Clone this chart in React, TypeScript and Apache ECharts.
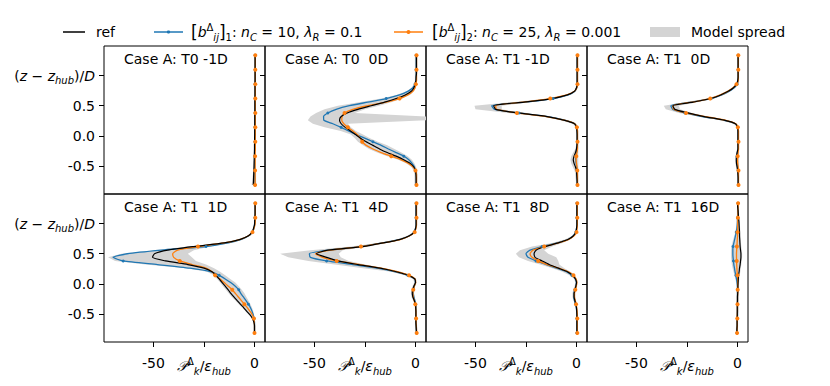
import React, { useEffect, useRef } from "react";
import * as echarts from "echarts";

// Heights (z - z_hub)/D at which every profile is sampled (bottom to top)
const Y = [
  -0.82, -0.76, -0.7, -0.64, -0.58, -0.52, -0.46, -0.4, -0.34, -0.28,
  -0.22, -0.16, -0.1, -0.04, 0.02, 0.08, 0.14, 0.2, 0.26, 0.32,
  0.38, 0.44, 0.5, 0.56, 0.62, 0.68, 0.74, 0.8, 0.86, 0.92,
  0.98, 1.04, 1.1, 1.16, 1.22, 1.28, 1.34,
];

const TITLES = [
  "Case A: T0 -1D", "Case A: T0  0D", "Case A: T1 -1D", "Case A: T1  0D",
  "Case A: T1  1D", "Case A: T1  4D", "Case A: T1  8D", "Case A: T1  16D",
];
const X_TICKS = [-50, -25, 0];
const Y_TICKS = [-0.5, 0, 0.5, 1];

// ---- T0 -1D
const t0m1Ref = [
  -0.6, -0.5, -0.45, -0.4, -0.3, -0.25, -0.2, -0.15, -0.1, -0.05,
  0, 0, 0.05, 0.05, 0.1, 0.1, 0.1, 0.15, 0.15, 0.15,
  0.2, 0.2, 0.2, 0.2, 0.2, 0.25, 0.25, 0.25, 0.25, 0.3,
  0.3, 0.3, 0.3, 0.3, 0.3, 0.3, 0.3];
const t0m1B1 = [
  0.2, 0.2, 0.2, 0.1, 0.1, 0.1, 0.1, 0.1, 0.1, 0.1,
  0.2, 0.2, 0.2, 0.2, 0.2, 0.2, 0.2, 0.2, 0.2, 0.2,
  0.3, 0.3, 0.3, 0.3, 0.3, 0.3, 0.3, 0.3, 0.3, 0.3,
  0.3, 0.3, 0.3, 0.3, 0.3, 0.3, 0.3];
const t0m1B2 = [
  0.3, 0.3, 0.3, 0.3, 0.3, 0.3, 0.3, 0.3, 0.3, 0.3,
  0.4, 0.4, 0.4, 0.4, 0.4, 0.4, 0.4, 0.4, 0.4, 0.4,
  0.4, 0.4, 0.4, 0.4, 0.4, 0.4, 0.4, 0.4, 0.4, 0.4,
  0.4, 0.4, 0.4, 0.4, 0.4, 0.4, 0.4];
const t0m1Lo = [
  -1.4, -1.2, -1.0, -0.8, -0.6, -0.5, -0.4, -0.3, -0.3, -0.2,
  -0.2, -0.2, -0.2, -0.1, -0.1, -0.1, -0.1, -0.1, -0.1, -0.1,
  -0.1, -0.1, -0.1, -0.1, -0.1, 0, 0, 0, 0, 0,
  0, 0, 0, 0, 0, 0, 0];
const t0m1Hi = [
  0.9, 0.8, 0.8, 0.8, 0.7, 0.7, 0.7, 0.7, 0.7, 0.7,
  0.7, 0.7, 0.7, 0.7, 0.7, 0.7, 0.7, 0.7, 0.7, 0.7,
  0.7, 0.7, 0.7, 0.7, 0.7, 0.7, 0.7, 0.7, 0.7, 0.7,
  0.7, 0.7, 0.7, 0.7, 0.7, 0.7, 0.7];

// ---- T0 0D
const t00Ref = [
  0.3, 0.3, 0.3, 0.2, 0, -0.8, -2.6, -5.8, -9.6, -14,
  -17.8, -21.1, -24.4, -27.2, -29.7, -32.2, -34.8, -36.8, -37.6, -36.8,
  -33.8, -28.5, -21.9, -15.3, -9.6, -5.1, -2.1, -0.8, -0.2, 0.2,
  0.3, 0.5, 0.5, 0.5, 0.5, 0.5, 0.5];
const t00B1 = [
  0.4, 0.4, 0.4, 0.4, 0, -0.5, -1.7, -3.3, -5.8, -9.6,
  -13.4, -17, -21.1, -25.2, -29.4, -33.2, -36.8, -40.9, -45.4, -45.5,
  -43.4, -39.3, -32.7, -23.6, -14.5, -7.9, -3.8, -1.3, -0.2, 0.3,
  0.3, 0.3, 0.3, 0.3, 0.3, 0.3, 0.3];
const t00B2 = [
  0.5, 0.5, 0.5, 0.5, 0, -1.2, -3.5, -7.1, -12, -17,
  -21.1, -24.4, -26.4, -27.4, -28.9, -31, -33.5, -35.5, -36.5, -36.3,
  -35.1, -31, -23.6, -14.5, -7.9, -3.8, -1.3, -0.2, 0.2, 0.5,
  0.5, 0.5, 0.5, 0.5, 0.5, 0.5, 0.5];
const t00Lo = [
  -0.5, -0.5, -0.5, -0.5, -1, -2, -4.5, -8.5, -14, -19,
  -23, -26, -28.5, -30, -32, -37, -45, -50.8, -53.3, -52,
  -49.2, -45, -38.4, -28, -17, -9.5, -4.5, -2, -0.8, -0.3,
  -0.3, -0.3, -0.3, -0.3, -0.3, -0.3, -0.3];
const t00Hi = [
  1, 1, 1, 1, 0.8, 0.3, -0.5, -1.8, -3.8, -7,
  -10.4, -14, -18.6, -22.5, -26, -29.5, -32, -33.5, 5.2, 5.2,
  -30, -25, -18, -12, -6.5, -2.8, -0.8, 0.2, 0.6, 0.8,
  0.8, 0.8, 0.8, 0.8, 0.8, 0.8, 0.8];

// ---- T1 -1D
const t1m1Ref = [
  0.3, 0.3, 0.2, 0.1, 0, -0.5, -1.2, -1.6, -1.2, -0.5,
  0, 0.2, 0.3, 0.3, 0.3, 0.2, 0, -1, -6.3, -14.5,
  -29, -40, -41, -26, -12, -4.5, -1, 0, 0.3, 0.3,
  0.3, 0.3, 0.3, 0.3, 0.3, 0.3, 0.3];
const t1m1B1 = [
  0.4, 0.4, 0.4, 0.3, 0.3, 0.1, -0.2, -0.4, -0.3, 0,
  0.2, 0.4, 0.4, 0.4, 0.4, 0.4, 0.1, -0.8, -5.8, -14,
  -28.5, -40.5, -42, -25.5, -11.5, -4, -0.8, 0.1, 0.4, 0.4,
  0.4, 0.4, 0.4, 0.4, 0.4, 0.4, 0.4];
const t1m1B2 = [
  0.5, 0.5, 0.5, 0.5, 0.4, 0.2, 0, -0.2, -0.1, 0.2,
  0.5, 0.5, 0.5, 0.5, 0.5, 0.5, 0.2, -0.8, -6, -15,
  -29.5, -39.5, -40, -26.5, -13, -4.8, -1, 0.2, 0.5, 0.5,
  0.5, 0.5, 0.5, 0.5, 0.5, 0.5, 0.5];
const t1m1Lo = [
  -0.3, -0.3, -0.5, -0.6, -1, -1.8, -2.6, -3, -2.6, -1.6,
  -0.6, -0.2, -0.2, -0.2, -0.2, -0.2, -0.5, -2, -8, -17,
  -34, -50, -50.5, -32, -14, -5.5, -1.5, -0.4, -0.1, -0.1,
  -0.1, -0.1, -0.1, -0.1, -0.1, -0.1, -0.1];
const t1m1Hi = [
  0.9, 0.9, 0.9, 0.9, 0.9, 0.9, 0.9, 0.9, 0.9, 0.9,
  0.9, 0.9, 0.9, 0.9, 0.9, 0.9, 0.6, -0.2, -5, -13,
  -27, -37, -37, -23.5, -10.5, -3.5, -0.4, 0.6, 0.9, 0.9,
  0.9, 0.9, 0.9, 0.9, 0.9, 0.9, 0.9];

// ---- T1 0D
const t10Ref = [
  0.3, 0.3, 0.3, 0.2, 0.1, -0.2, -0.5, -0.6, -0.5, -0.2,
  0.2, 0.2, 0.2, 0.2, 0.2, 0.2, 0, -1, -6.6, -16.5,
  -24.5, -31, -32, -22, -13.2, -8.3, -4.6, -2, -0.4, 0.1,
  0.3, 0.3, 0.3, 0.3, 0.3, 0.3, 0.3];
const t10B1 = [
  0.4, 0.4, 0.4, 0.4, 0.3, 0.1, -0.2, -0.3, -0.2, 0,
  0.4, 0.4, 0.4, 0.4, 0.4, 0.4, 0.1, -1, -7, -17.5,
  -26, -32, -33, -23, -13, -7.8, -4.2, -1.6, -0.2, 0.3,
  0.3, 0.3, 0.3, 0.3, 0.3, 0.3, 0.3];
const t10B2 = [
  0.5, 0.5, 0.5, 0.5, 0.5, 0.3, 0.1, 0, 0.1, 0.3,
  0.5, 0.5, 0.5, 0.5, 0.5, 0.5, 0.2, -0.8, -6.2, -16,
  -25.5, -31.5, -32, -22.5, -13.5, -8.5, -4.8, -2.2, -0.5, 0.4,
  0.4, 0.4, 0.4, 0.4, 0.4, 0.4, 0.4];
const t10Lo = [
  -0.2, -0.2, -0.2, -0.2, -0.3, -0.7, -1, -1.1, -1, -0.6,
  -0.2, -0.2, -0.2, -0.2, -0.2, -0.2, -0.4, -2, -8.5, -19,
  -29, -35.5, -36.5, -26, -15, -9.5, -5.5, -2.8, -0.8, -0.2,
  -0.2, -0.2, -0.2, -0.2, -0.2, -0.2, -0.2];
const t10Hi = [
  0.8, 0.8, 0.8, 0.8, 0.8, 0.8, 0.8, 0.8, 0.8, 0.8,
  0.8, 0.8, 0.8, 0.8, 0.8, 0.8, 0.6, -0.2, -5, -14.5,
  -22.5, -28.5, -29, -20, -11.5, -7, -3.8, -1.3, 0.2, 0.8,
  0.8, 0.8, 0.8, 0.8, 0.8, 0.8, 0.8];

// ---- T1 1D
const t11Ref = [
  0, 0, 0, -0.3, -1, -2.2, -3.8, -5.3, -7, -8.6,
  -10.2, -11.7, -13, -14.5, -16, -17.5, -19, -21, -25, -33,
  -44, -50.5, -49.5, -43, -30, -15, -7, -3, -1.2, -0.5,
  0, 0.1, 0.2, 0.3, 0.3, 0.3, 0.3];
const t11B1 = [
  0, 0, 0, 0, -0.2, -0.6, -1.2, -2, -3, -4.2,
  -5.5, -6.8, -7.8, -9.5, -11.8, -14.5, -17.5, -21.5, -32, -48,
  -65, -70, -63, -46, -24, -13, -6.5, -2.8, -1, -0.3,
  0, 0.1, 0.2, 0.3, 0.3, 0.3, 0.3];
const t11B2 = [
  0, 0, 0, -0.1, -0.3, -1, -2.2, -3.5, -5, -6.5,
  -8, -9.5, -11, -13, -15, -17, -19.5, -21, -24, -31,
  -37, -40, -40.5, -38, -28, -15, -7, -3, -1, -0.3,
  0.2, 0.4, 0.4, 0.4, 0.4, 0.4, 0.4];
const t11Lo = [
  -0.3, -0.3, -0.3, -0.6, -1.3, -2.6, -4.3, -6, -7.8, -9.5,
  -11.2, -12.8, -14.2, -15.6, -17, -18.5, -20.2, -23.5, -34, -54,
  -69, -72.5, -66, -50, -33, -17, -8, -3.5, -1.5, -0.7,
  -0.2, -0.2, -0.2, -0.2, -0.2, -0.2, -0.2];
const t11Hi = [
  0.4, 0.4, 0.4, 0.3, 0, -0.3, -0.6, -1.2, -2, -3,
  -4, -5, -6.3, -7.8, -9.5, -12, -14.5, -17, -20, -24,
  -29, -31, -33, -30, -22, -12, -5.5, -2.2, -0.6, 0,
  0.5, 0.5, 0.5, 0.5, 0.5, 0.5, 0.5];

// ---- T1 4D
const t14Ref = [
  0.5, 0.4, 0.3, 0.2, 0.2, 0.2, 0.2, 0.1, 0, -0.6,
  -1.3, -1.6, -1.4, -0.8, 0, -0.3, -3.5, -9.5, -17.5, -28.5,
  -38.4, -44, -49, -43.4, -26, -16, -7.5, -3, -0.6, 0,
  0.3, 0.3, 0.3, 0.3, 0.3, 0.3, 0.3];
const t14B1 = [
  0.5, 0.4, 0.3, 0.2, 0.2, 0.2, 0.2, 0.2, 0.1, -0.3,
  -0.8, -1.1, -1, -0.6, 0, -0.4, -3.8, -10, -19, -31,
  -44, -52, -52.5, -43, -27, -16.5, -7.5, -3, -0.6, 0,
  0.3, 0.3, 0.3, 0.3, 0.3, 0.3, 0.3];
const t14B2 = [
  0.6, 0.5, 0.4, 0.3, 0.3, 0.3, 0.2, 0.1, -0.1, -0.6,
  -1.1, -1.3, -1.1, -0.6, 0.1, -0.2, -3.2, -9, -17, -27.5,
  -39, -46, -49.5, -42, -27, -16, -7.2, -2.8, -0.4, 0.2,
  0.5, 0.5, 0.5, 0.5, 0.5, 0.5, 0.5];
const t14Lo = [
  0, 0, 0, -0.1, -0.1, -0.1, -0.2, -0.3, -0.5, -1.2,
  -2, -2.3, -2.1, -1.5, -0.6, -1.2, -5, -12, -26, -40,
  -53, -63, -67, -52, -32, -18.5, -9, -4, -1.2, -0.3,
  -0.1, -0.1, -0.1, -0.1, -0.1, -0.1, -0.1];
const t14Hi = [
  1, 0.9, 0.8, 0.7, 0.7, 0.7, 0.7, 0.6, 0.5, 0.1,
  -0.4, -0.7, -0.6, -0.2, 0.5, 0.3, -2.5, -7.5, -15, -25,
  -33, -37, -38, -36, -23, -14, -6, -2.2, 0, 0.6,
  0.8, 0.8, 0.8, 0.8, 0.8, 0.8, 0.8];

// ---- T1 8D
const t18Ref = [
  0.2, 0.2, 0.2, 0.2, 0.2, 0.2, 0.1, 0, -0.3, -0.8,
  -1.2, -1.2, -0.8, -0.3, 0, -0.5, -2, -4.5, -9, -13.5,
  -17, -20.5, -21, -20, -15.5, -9, -4, -1.5, -0.3, 0,
  0.2, 0.2, 0.2, 0.2, 0.2, 0.2, 0.2];
const t18B1 = [
  0.2, 0.2, 0.2, 0.2, 0.2, 0.2, 0.1, -0.1, -0.5, -1,
  -1.3, -1.2, -0.8, -0.3, 0, -0.6, -2.3, -5, -10, -15,
  -20, -24, -25, -23, -17, -9.5, -4, -1.5, -0.3, 0,
  0.2, 0.2, 0.2, 0.2, 0.2, 0.2, 0.2];
const t18B2 = [
  0.4, 0.4, 0.4, 0.4, 0.4, 0.4, 0.3, 0.1, -0.2, -0.6,
  -1, -1, -0.6, -0.1, 0.2, -0.2, -1.5, -4, -9, -14.5,
  -19, -22, -23, -21.5, -16, -9, -3.8, -1.2, 0, 0.3,
  0.4, 0.4, 0.4, 0.4, 0.4, 0.4, 0.4];
const t18Lo = [
  -0.1, -0.1, -0.1, -0.1, -0.1, -0.1, -0.2, -0.4, -0.8, -1.5,
  -2, -2, -1.6, -1, -0.5, -1.2, -3.5, -7, -12, -18,
  -24, -28.5, -30, -28, -22, -12, -5.5, -2.2, -0.8, -0.3,
  -0.1, -0.1, -0.1, -0.1, -0.1, -0.1, -0.1];
const t18Hi = [
  0.6, 0.6, 0.6, 0.6, 0.6, 0.6, 0.5, 0.3, 0.1, -0.3,
  -0.6, -0.6, -0.3, 0.2, 0.5, 0.2, -0.8, -3, -6, -8.5,
  -9, -10, -14, -16, -12, -7, -3, -1, 0.2, 0.5,
  0.6, 0.6, 0.6, 0.6, 0.6, 0.6, 0.6];

// ---- T1 16D
const t116Ref = [
  -0.3, -0.3, -0.2, -0.2, -0.2, -0.1, -0.1, -0.1, -0.1, 0,
  0, 0.1, 0.2, 0.2, 0.3, 0.4, 0.5, 0.8, 1, 1.3,
  1.5, 1.7, 1.7, 1.5, 1.3, 1.2, 1.1, 1, 1, 0.9,
  0.8, 0.7, 0.5, 0.4, 0.3, 0.1, 0];
const t116B1 = [
  -0.2, -0.2, -0.1, -0.1, -0.1, 0, 0, 0, 0, 0,
  0, 0, 0, 0, -0.2, -0.5, -0.8, -1.2, -1.5, -1.8,
  -2, -2.2, -2.3, -2.3, -2.2, -1.8, -1.4, -1, -0.6, -0.3,
  -0.1, 0, 0, 0.1, 0.1, 0.2, 0.2];
const t116B2 = [
  -0.2, -0.2, -0.1, -0.1, -0.1, -0.1, 0, 0, 0, 0,
  0, 0.1, 0.1, 0.1, 0.1, 0.1, 0, -0.2, -0.3, -0.4,
  -0.4, -0.5, -0.5, -0.4, -0.3, -0.2, -0.1, 0, 0, 0.1,
  0.1, 0.1, 0.2, 0.2, 0.2, 0.3, 0.3];
const t116Lo = [
  -0.8, -0.8, -0.7, -0.7, -0.6, -0.6, -0.5, -0.5, -0.5, -0.5,
  -0.5, -0.5, -0.5, -0.5, -0.7, -1, -1.5, -2, -2.4, -2.8,
  -3, -3.2, -3.2, -3.2, -3, -2.6, -2.1, -1.6, -1.1, -0.8,
  -0.6, -0.5, -0.4, -0.3, -0.3, -0.2, -0.2];
const t116Hi = [
  0.2, 0.2, 0.3, 0.3, 0.3, 0.4, 0.4, 0.4, 0.4, 0.5,
  0.5, 0.6, 0.7, 0.7, 0.8, 0.9, 1.1, 1.4, 1.6, 1.9,
  2.1, 2.3, 2.3, 2.1, 1.9, 1.7, 1.6, 1.5, 1.4, 1.3,
  1.2, 1.1, 0.9, 0.8, 0.7, 0.6, 0.5];

const REF = [t0m1Ref, t00Ref, t1m1Ref, t10Ref, t11Ref, t14Ref, t18Ref, t116Ref];
const B1 = [t0m1B1, t00B1, t1m1B1, t10B1, t11B1, t14B1, t18B1, t116B1];
const B2 = [t0m1B2, t00B2, t1m1B2, t10B2, t11B2, t14B2, t18B2, t116B2];
const LO = [t0m1Lo, t00Lo, t1m1Lo, t10Lo, t11Lo, t14Lo, t18Lo, t116Lo];
const HI = [t0m1Hi, t00Hi, t1m1Hi, t10Hi, t11Hi, t14Hi, t18Hi, t116Hi];

// ---- layout / style
const FONT = "DejaVu Sans";
const BLUE = "#1f77b4";
const ORANGE = "#ff7f0e";
const GREY = "#d4d4d4";
const COL_LEFT = [104, 265, 426, 587];
const ROW_TOP = [46, 194];
const PW = 161;
const PH = 148;
const XMIN = -74.5;
const XMAX = 5.2;
const YMIN = -0.97;
const YMAX = 1.495;
const MARK_EVERY = 4;

const RICH: any = {
  n: { fontFamily: FONT, fontSize: 14, color: "#000", lineHeight: 20 },
  i: { fontFamily: FONT, fontSize: 14, fontStyle: "italic", color: "#000", lineHeight: 20 },
  br: { fontFamily: FONT, fontSize: 17, color: "#000", lineHeight: 20 },
  sub: { fontFamily: FONT, fontSize: 10, fontStyle: "italic", color: "#000", lineHeight: 12, verticalAlign: "bottom" },
  subn: { fontFamily: FONT, fontSize: 10, color: "#000", lineHeight: 12, verticalAlign: "bottom" },
  sup: { fontFamily: FONT, fontSize: 10, color: "#000", lineHeight: 12, verticalAlign: "top" },
};

const Y_NAME = "{n|(}{i|z}{n| − }{i|z}{sub|hub}{n|)/}{i|D}";
const X_NAME = "{i|𝒫}{sup|Δ}{sub|k}{n|/}{i|ε}{sub|hub}";
const legendLabel = (k: string, nc: string, lr: string) =>
  `{br|[}{i|b}{sup|Δ}{sub|ij}{br|]}{subn|${k}}{n|: }{i|n}{sub|C}{n| = ${nc}, }{i|λ}{sub|R}{n| = ${lr}}`;

function buildOption() {
  const grid: any[] = [];
  const xAxis: any[] = [];
  const yAxis: any[] = [];
  const series: any[] = [];
  const title: any[] = [];

  for (let p = 0; p < 8; p++) {
    const row = Math.floor(p / 4);
    const col = p % 4;
    grid.push({
      left: COL_LEFT[col], top: ROW_TOP[row], width: PW, height: PH,
      show: true, borderColor: "#000", borderWidth: 1, backgroundColor: "transparent",
    });
    xAxis.push({
      type: "value", gridIndex: p, min: XMIN, max: XMAX, position: "bottom",
      axisLine: { show: false, onZero: false }, splitLine: { show: false },
      axisTick: { show: row === 1, customValues: X_TICKS, length: 5, lineStyle: { color: "#000", width: 1 } },
      axisLabel: {
        show: row === 1, customValues: X_TICKS, margin: 14, color: "#000",
        fontFamily: FONT, fontSize: 14, rich: RICH,
        formatter: (v: number) => (v === -25 ? X_NAME : String(v)),
      },
    });
    yAxis.push({
      type: "value", gridIndex: p, min: YMIN, max: YMAX, position: "left",
      axisLine: { show: false, onZero: false }, splitLine: { show: false },
      axisTick: { show: true, customValues: Y_TICKS, length: 5, lineStyle: { color: "#000", width: 1 } },
      axisLabel: {
        show: col === 0, customValues: Y_TICKS, margin: 9, color: "#000",
        fontFamily: FONT, fontSize: 14, rich: RICH,
        formatter: (v: number) => (v === 1 ? Y_NAME : v.toFixed(1)),
      },
    });
    title.push({
      text: TITLES[p], left: COL_LEFT[col] + 20, top: ROW_TOP[row] + 6, padding: 0,
      textStyle: { fontFamily: FONT, fontSize: 14, fontWeight: "normal", color: "#000" },
    });

    const lo = LO[p];
    const hi = HI[p];
    series.push({
      type: "custom", xAxisIndex: p, yAxisIndex: p, silent: true, clip: true,
      data: [[0, 0]],
      renderItem: (_params: any, api: any) => {
        const pts: number[][] = [];
        for (let j = 0; j < Y.length; j++) pts.push(api.coord([lo[j], Y[j]]));
        for (let j = Y.length - 1; j >= 0; j--) pts.push(api.coord([hi[j], Y[j]]));
        return { type: "polygon", shape: { points: pts }, style: { fill: GREY, stroke: null } };
      },
    });
    const lineSeries = (vals: number[], color: string, width: number, mark: number) => ({
      type: "line", xAxisIndex: p, yAxisIndex: p, silent: true, smooth: 0.2,
      showSymbol: mark > 0, symbolSize: mark, clip: true,
      lineStyle: { color, width }, itemStyle: { color },
      emphasis: { disabled: true },
      data: Y.map((y, j) => ({
        value: [vals[j], y],
        symbol: mark > 0 && j % MARK_EVERY === 0 ? "circle" : "none",
      })),
    });
    series.push(lineSeries(B1[p], BLUE, 1.3, 3));
    series.push(lineSeries(B2[p], ORANGE, 1.3, 4));
    series.push(lineSeries(REF[p], "#000", 1.2, 0));
  }

  const LY = 32;
  const graphic: any[] = [
    { type: "line", shape: { x1: 63, y1: LY, x2: 85, y2: LY }, style: { stroke: "#000", lineWidth: 1.5 } },
    { type: "text", x: 96, y: LY, style: { text: "ref", fontFamily: FONT, fontSize: 14, fill: "#000", verticalAlign: "middle" } },
    { type: "line", shape: { x1: 154, y1: LY, x2: 183, y2: LY }, style: { stroke: BLUE, lineWidth: 1.5 } },
    { type: "circle", shape: { cx: 168.5, cy: LY, r: 1.6 }, style: { fill: BLUE } },
    { type: "text", x: 191, y: LY, style: { text: legendLabel("1", "10", "0.1"), rich: RICH, fontFamily: FONT, fontSize: 14, fill: "#000", verticalAlign: "middle" } },
    { type: "line", shape: { x1: 394, y1: LY, x2: 423, y2: LY }, style: { stroke: ORANGE, lineWidth: 1.5 } },
    { type: "circle", shape: { cx: 408.5, cy: LY, r: 2 }, style: { fill: ORANGE } },
    { type: "text", x: 432, y: LY, style: { text: legendLabel("2", "25", "0.001"), rich: RICH, fontFamily: FONT, fontSize: 14, fill: "#000", verticalAlign: "middle" } },
    { type: "rect", shape: { x: 650, y: 27, width: 30, height: 10 }, style: { fill: GREY } },
    { type: "text", x: 691, y: LY, style: { text: "Model spread", fontFamily: FONT, fontSize: 14, fill: "#000", verticalAlign: "middle" } },
  ];

  return {
    animation: false,
    backgroundColor: "#fff",
    title,
    grid,
    xAxis,
    yAxis,
    series,
    graphic,
  };
}

export default function App() {
  const ref = useRef<HTMLDivElement>(null);
  useEffect(() => {
    if (!ref.current) return;
    const chart = echarts.init(ref.current, undefined, { renderer: "svg" });
    chart.setOption(buildOption() as any);
    return () => chart.dispose();
  }, []);
  return (
    <div
      ref={ref}
      style={{ position: "fixed", left: 0, top: 0, width: 830, height: 386, background: "#fff" }}
    />
  );
}
